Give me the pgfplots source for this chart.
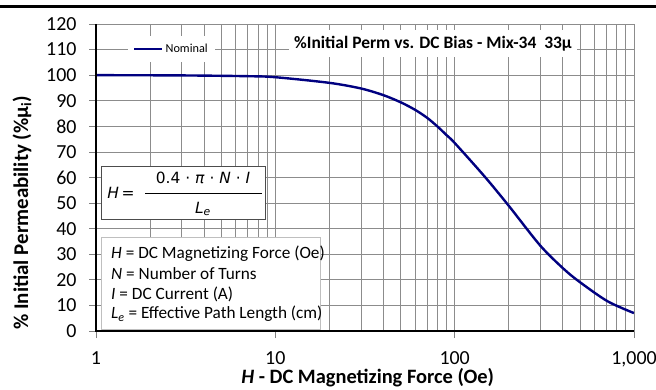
\documentclass[border=0pt]{standalone}
\usepackage{pgfplots}
\pgfplotsset{compat=1.18}
\usepackage{fontspec}
\setmainfont{Carlito}
\newfontfamily\verd{DejaVu Sans}
\definecolor{navyline}{RGB}{0,0,128}

\begin{document}
\begin{tikzpicture}
\begin{axis}[
  scale only axis, width=538bp, height=307bp,
  xmode=log, xmin=1, xmax=1000, ymin=0, ymax=120,
  xtick={1,10,100,1000}, xticklabels={1,10,100,{1,000}},
  ytick={0,10,...,120},
  grid=both,
  major grid style={black!45, line width=0.7bp},
  minor grid style={black!45, line width=0.7bp},
  tick pos=left, tick align=outside,
  major tick length=7bp, minor tick length=0pt,
  tick style={black!50, line width=0.7bp},
  axis line style={black!45, line width=0.7bp},
  /pgf/number format/assume math mode=true,
  ticklabel style={font=\fontsize{20}{21}\selectfont},
  yticklabel style={xshift=-9bp},
  xticklabel style={yshift=-10bp},
  xlabel={\textbf{\textit{H} - DC Magnetizing Force (Oe)}},
  ylabel={\textbf{\% Initial Permeability (\%µ\textsubscript{i})}},
  xlabel style={font=\fontsize{20.5}{21}\selectfont, at={(rel axis cs:0.505,-0.153)}, anchor=center},
  ylabel style={font=\fontsize{21}{22}\selectfont, at={(rel axis cs:-0.1375,0.385)}, anchor=center},
  legend style={at={(0.0595,0.961)}, anchor=north west, draw=none, fill=white,
    font=\fontsize{12.3}{13}\selectfont, inner xsep=5bp, inner ysep=6bp},
  legend image code/.code={\draw[#1] (0bp,0bp) -- (28bp,0bp);},
]
\addplot[navyline, line width=2.4bp, smooth, tension=0.5] coordinates {
  (1,100) (3,99.9) (7,99.6) (10,99.2) (20,97.0) (30,94.8) (40,92.2)
  (50,89.4) (60,86.5) (70,83.4) (80,80.0) (90,76.6) (100,73.5) (146,60.6)
  (200,49.0) (300,33.4) (408,24.1) (506,18.8) (713,11.6) (1000,7.0)
};
\addlegendentry{Nominal}
\coordinate (O) at (rel axis cs:0,0);
\end{axis}
% black left/bottom axis lines
\draw[line width=1.3bp] ([shift={(0bp,307bp)}]O) -- (O) -- ([shift={(538bp,0bp)}]O);
% title inside the plot
\node[fill=white, inner xsep=5bp, inner ysep=6bp, font=\bfseries\fontsize{17.5}{18}\selectfont]
  at ([shift={(337bp,287bp)}]O) {\%Initial Perm vs. DC Bias - Mix-34~~33µ};
% formula box
\node[draw=black!70, line width=0.8bp, fill=white, anchor=north west,
  minimum width=164bp, minimum height=53bp, inner sep=0pt] at ([shift={(5bp,165bp)}]O) {};
\node[font=\verd\fontsize{15.5}{16}\selectfont\itshape] at ([shift={(25bp,138bp)}]O) {H\,=};
\node[font=\verd\fontsize{15.5}{16}\selectfont] at ([shift={(107bp,153bp)}]O)
  {0.4 · \textit{π} · \textit{N} · \textit{I}};
\draw[line width=0.8bp] ([shift={(49bp,138bp)}]O) -- ([shift={(166bp,138bp)}]O);
\node[font=\verd\fontsize{15.5}{16}\selectfont\itshape] at ([shift={(107bp,122bp)}]O)
  {L\textsubscript{e}};
% definitions box
\node[draw=black!25, line width=0.8bp, fill=white, anchor=north west,
  minimum width=219bp, minimum height=92bp, inner sep=0pt] at ([shift={(5bp,94bp)}]O) {};
\begin{scope}[every node/.style={anchor=west, inner sep=0pt, font=\fontsize{17.3}{18}\selectfont}]
\node at ([shift={(15bp,77bp)}]O) {\textit{H} = DC Magnetizing Force (Oe)};
\node at ([shift={(15bp,57bp)}]O) {\textit{N} = Number of Turns};
\node at ([shift={(15bp,37bp)}]O) {\textit{I} = DC Current (A)};
\node at ([shift={(15bp,17bp)}]O) {\textit{L\textsubscript{e}} = Effective Path Length (cm)};
\end{scope}
% page rule on top
\draw[line width=3bp] ([shift={(-96bp,324.5bp)}]O) -- ([shift={(560bp,324.5bp)}]O);
\pgfresetboundingbox
\path ([shift={(-96bp,-59bp)}]O) rectangle ([shift={(560bp,331bp)}]O);
\end{tikzpicture}
\end{document}
